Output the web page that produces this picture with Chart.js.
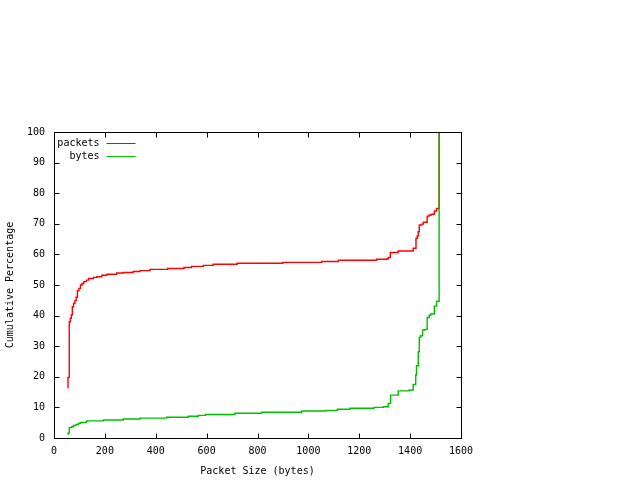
<!DOCTYPE html>
<html>
<head>
<meta charset="utf-8">
<style>
html, body { margin: 0; padding: 0; background: #fff; }
#wrap { width: 640px; height: 480px; }
</style>
<script src="https://cdn.jsdelivr.net/npm/chart.js@4.4.0/dist/chart.umd.min.js"></script>
</head>
<body>
<div id="wrap"><canvas id="cdf_chart"></canvas></div>
<script>
// packet size CDF (stepped curves)
const packetSizes = [54, 55, 60, 64, 68, 72, 77, 82, 87, 92, 98, 104, 110, 117, 127, 136, 155, 168, 188, 208, 247, 273, 311, 338, 377, 447, 511, 541, 587, 626, 720, 900, 1052, 1118, 1268, 1308, 1314, 1322, 1353, 1412, 1423, 1428, 1432, 1436, 1445, 1452, 1467, 1475, 1484, 1495, 1504, 1514];
const packetPct   = [16.4, 19.8, 38.0, 39.1, 40.2, 42.9, 44.0, 44.9, 46.0, 48.1, 48.9, 50.0, 50.5, 51.1, 51.6, 52.1, 52.5, 52.7, 53.2, 53.5, 53.9, 54.1, 54.4, 54.7, 55.1, 55.4, 55.7, 56.1, 56.4, 56.8, 57.1, 57.4, 57.7, 58.1, 58.4, 58.6, 59.0, 60.6, 61.1, 62.0, 65.3, 66.0, 67.4, 69.6, 69.9, 70.5, 72.5, 72.9, 73.1, 74.2, 75.0, 100];

const byteSizes = [54, 55, 60, 69, 76, 86, 96, 105, 128, 194, 272, 338, 443, 528, 567, 596, 711, 816, 973, 1069, 1114, 1164, 1258, 1295, 1314, 1323, 1353, 1397, 1412, 1422, 1425, 1432, 1436, 1441, 1449, 1460, 1467, 1475, 1481, 1495, 1504, 1514];
const bytePct   = [1.2, 1.6, 3.4, 3.7, 4.1, 4.4, 4.8, 5.1, 5.6, 5.9, 6.2, 6.5, 6.8, 7.1, 7.4, 7.7, 8.1, 8.4, 8.8, 9.0, 9.4, 9.7, 10.0, 10.2, 11.3, 14.0, 15.4, 15.7, 17.5, 20.6, 23.6, 28.2, 32.9, 33.4, 35.3, 35.5, 39.4, 40.1, 40.5, 43.1, 44.7, 100];

const seriesNames = ['packets', 'bytes'];
const seriesColors = ['#ff0000', '#00c000'];

const xTicks = { min: 0, max: 1600, step: 200 };
const yTicks = { min: 0, max: 100, step: 10 };

function toPoints(xs, ys) {
    return xs.map((x, i) => ({ x: x, y: ys[i] }));
}

const monoFont = { family: '"DejaVu Sans Mono", "Liberation Mono", monospace', size: 10 };

// gnuplot style frame with inward ticks on all four sides + key in the corner
const gnuFrame = {
    id: 'gnuFrame',
    afterDatasetsDraw(chart) {
        const { ctx, chartArea: a, scales } = chart;
        const L = Math.round(a.left) + 0.5, R = Math.round(a.right) + 0.5;
        const T = Math.round(a.top) + 0.5, B = Math.round(a.bottom) + 0.5;
        ctx.save();
        ctx.strokeStyle = '#000';
        ctx.lineWidth = 1;
        ctx.beginPath();
        scales.y.ticks.forEach(t => {
            const y = Math.round(scales.y.getPixelForValue(t.value)) + 0.5;
            ctx.moveTo(L, y); ctx.lineTo(L + 5, y);
            ctx.moveTo(R, y); ctx.lineTo(R - 5, y);
        });
        scales.x.ticks.forEach(t => {
            const x = Math.round(scales.x.getPixelForValue(t.value)) + 0.5;
            ctx.moveTo(x, B); ctx.lineTo(x, B - 5);
            ctx.moveTo(x, T); ctx.lineTo(x, T + 5);
        });
        ctx.stroke();
        ctx.strokeRect(L, T, R - L, B - T);

        // key
        ctx.font = monoFont.size + 'px ' + monoFont.family;
        ctx.textAlign = 'right';
        ctx.textBaseline = 'middle';
        chart.data.datasets.forEach((ds, i) => {
            const y = Math.round(a.top + 11 + i * 13) + 0.5;
            ctx.fillStyle = '#000';
            ctx.fillText(ds.label, L + 45, y);
            ctx.strokeStyle = ds.borderColor;
            ctx.beginPath();
            ctx.moveTo(L + 52, y); ctx.lineTo(L + 81, y);
            ctx.stroke();
        });
        ctx.restore();
    }
};

const ctx = document.getElementById('cdf_chart');

const cdfChart = new Chart(ctx, {
    type: 'line',
    data: {
        datasets: [{
            label: seriesNames[0],
            data: toPoints(packetSizes, packetPct),
            borderColor: seriesColors[0],
            backgroundColor: seriesColors[0],
            borderWidth: 1.4,
            pointRadius: 0,
            stepped: true,
            fill: false,
            order: 1
        }, {
            label: seriesNames[1],
            data: toPoints(byteSizes, bytePct),
            borderColor: seriesColors[1],
            backgroundColor: seriesColors[1],
            borderWidth: 1.4,
            pointRadius: 0,
            stepped: true,
            fill: false,
            order: 0
        }]
    },
    options: {
        responsive: true,
        maintainAspectRatio: false,
        animation: false,
        devicePixelRatio: 1,
        layout: { padding: { top: 132, right: 179, left: 0, bottom: 0 } },
        plugins: {
            legend: { display: false },
            tooltip: { enabled: false }
        },
        scales: {
            x: {
                type: 'linear',
                min: xTicks.min,
                max: xTicks.max,
                afterFit(s) { s.height = 42; },
                ticks: { stepSize: xTicks.step, color: '#000', font: monoFont, padding: 7, maxRotation: 0, callback: v => String(v) },
                grid: { display: false, drawTicks: false },
                border: { display: false },
                title: { display: true, text: 'Packet Size (bytes)', color: '#000', font: monoFont, padding: { top: 0, bottom: 3 } }
            },
            y: {
                type: 'linear',
                min: yTicks.min,
                max: yTicks.max,
                afterFit(s) { s.width = 54; },
                ticks: { stepSize: yTicks.step, color: '#000', font: monoFont, padding: 9, callback: v => String(v) },
                grid: { display: false, drawTicks: false },
                border: { display: false },
                title: { display: true, text: 'Cumulative Percentage', color: '#000', font: monoFont, padding: { top: 4, bottom: 0 } }
            }
        }
    },
    plugins: [gnuFrame]
});
</script>
</body>
</html>
